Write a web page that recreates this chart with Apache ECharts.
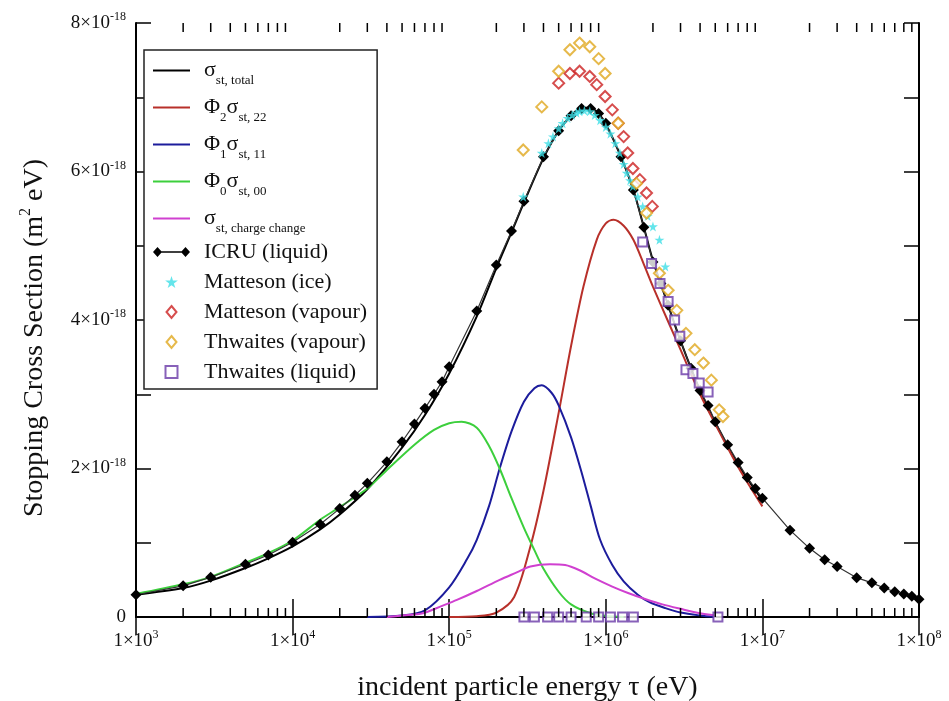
<!DOCTYPE html>
<html><head><meta charset="utf-8">
<script src="https://cdn.jsdelivr.net/npm/echarts@6/dist/echarts.min.js"></script>
<style>html,body{margin:0;padding:0;background:#fff}#c{width:949px;height:701px}</style>
</head><body><div id="c"></div>
<script>
// ---- data (energies in eV, cross sections in units of 1e-18 m^2 eV) ----
var xDecades = [1e3, 1e4, 1e5, 1e6, 1e7, 1e8];
var yTicks = [0, 2, 4, 6, 8];

var totalX = [1e3,2e3,3e3,5e3,7e3,1e4,1.5e4,2e4,3e4,5e4,7e4,1e5,1.5e5,2e5,2.5e5,3e5,4e5,5e5,6e5,7e5,8e5,9e5,1e6,1.25e6,1.5e6,1.75e6,2e6,2.5e6,3e6,4e6,5e6,7e6,1e7];
var totalY = [0.30,0.39,0.49,0.66,0.79,0.95,1.18,1.38,1.72,2.28,2.72,3.28,4.05,4.70,5.18,5.58,6.18,6.55,6.75,6.86,6.86,6.78,6.64,6.20,5.75,5.25,4.80,4.20,3.72,3.05,2.62,2.05,1.57];

var phi2X = [1e5,1.5e5,2e5,2.6e5,3.3e5,4e5,5e5,6e5,7.2e5,8.75e5,1e6,1.12e6,1.3e6,1.5e6,1.75e6,2e6,2.5e6,3e6,4e6,5e6,7e6,1e7];
var phi2Y = [0.0,0.01,0.06,0.27,0.95,1.70,2.75,3.65,4.45,5.08,5.30,5.35,5.27,5.08,4.75,4.45,3.98,3.60,3.00,2.60,2.02,1.49];

var phi1X = [3e4,5e4,7e4,1e5,1.3e5,1.5e5,1.8e5,2.1e5,2.5e5,3e5,3.5e5,3.9e5,4.5e5,5e5,6e5,7e5,8e5,9.2e5,1.1e6,1.3e6,1.6e6,1.9e6,2.4e6,3e6,4e6,5e6];
var phi1Y = [0.0,0.02,0.09,0.40,0.78,1.04,1.50,2.00,2.50,2.90,3.08,3.12,3.02,2.85,2.42,1.95,1.50,1.04,0.70,0.48,0.30,0.20,0.12,0.06,0.02,0.0];

var phi0X = [1e3,2e3,3e3,5e3,7e3,1e4,1.5e4,2e4,3e4,4e4,6e4,8e4,1e5,1.2e5,1.5e5,1.8e5,2.1e5,2.5e5,3e5,3.5e5,4e5,5e5,6e5,8e5,1e6,1.3e6];
var phi0Y = [0.31,0.44,0.54,0.73,0.86,1.03,1.31,1.48,1.73,1.98,2.32,2.52,2.61,2.63,2.55,2.30,2.00,1.60,1.20,0.90,0.65,0.34,0.17,0.05,0.015,0.0];

var ccX = [4e4,5e4,6.8e4,9e4,1.12e5,1.5e5,2.1e5,2.7e5,3.3e5,4.4e5,5.5e5,6.8e5,8.5e5,1.1e6,1.4e6,1.8e6,2.3e6,3e6,4e6,5e6];
var ccY = [0.0,0.02,0.05,0.15,0.23,0.35,0.50,0.60,0.68,0.71,0.70,0.63,0.52,0.41,0.32,0.24,0.17,0.11,0.05,0.02];

var icruX = [1e3,2e3,3e3,5e3,7e3,1e4,1.5e4,2e4,2.5e4,3e4,4e4,5e4,6e4,7e4,8e4,9e4,1e5,1.5e5,2e5,2.5e5,3e5,4e5,5e5,6e5,7e5,8e5,9e5,1e6,1.25e6,1.5e6,1.75e6,2e6,2.25e6,2.5e6,3e6,3.5e6,4e6,4.5e6,5e6,6e6,7e6,8e6,9e6,1e7,1.5e7,2e7,2.5e7,3e7,4e7,5e7,6e7,7e7,8e7,9e7,1e8];
var icruY = [0.30,0.42,0.535,0.71,0.835,1.006,1.25,1.46,1.64,1.80,2.09,2.36,2.60,2.81,3.00,3.17,3.37,4.12,4.74,5.20,5.60,6.20,6.55,6.75,6.85,6.85,6.78,6.65,6.20,5.75,5.25,4.78,4.49,4.20,3.72,3.35,3.05,2.85,2.63,2.32,2.08,1.88,1.73,1.60,1.17,0.925,0.77,0.68,0.53,0.46,0.39,0.34,0.31,0.28,0.24];

var mIceX = [2.97e5,3.9e5,4.3e5,4.6e5,5e5,5.3e5,5.7e5,6.1e5,6.5e5,6.8e5,7.3e5,7.9e5,8.5e5,9.2e5,1e6,1.07e6,1.15e6,1.23e6,1.3e6,1.36e6,1.43e6,1.49e6,1.6e6,1.72e6,1.85e6,2e6,2.2e6,2.4e6];
var mIceY = [5.66,6.25,6.38,6.47,6.58,6.65,6.72,6.76,6.79,6.81,6.82,6.81,6.76,6.69,6.60,6.51,6.38,6.25,6.10,5.98,5.88,5.80,5.66,5.53,5.40,5.26,5.08,4.72];

var mVapX = [5e5,5.9e5,6.8e5,7.9e5,8.75e5,9.9e5,1.1e6,1.2e6,1.3e6,1.38e6,1.49e6,1.65e6,1.82e6,1.98e6];
var mVapY = [7.19,7.32,7.35,7.28,7.17,7.01,6.83,6.65,6.47,6.25,6.04,5.89,5.71,5.53];

var tVapX = [2.97e5,3.9e5,5e5,5.9e5,6.8e5,7.9e5,9e5,9.9e5,1.2e6,1.57e6,1.82e6,2.2e6,2.5e6,2.84e6,3.25e6,3.7e6,4.2e6,4.72e6,5.3e6,5.6e6];
var tVapY = [6.29,6.87,7.35,7.64,7.73,7.68,7.52,7.32,6.65,5.84,5.44,4.63,4.40,4.13,3.82,3.60,3.42,3.19,2.79,2.70];

var tLiqX = [1.72e6,1.96e6,2.22e6,2.5e6,2.75e6,2.97e6,3.25e6,3.6e6,3.95e6,4.5e6,3e5,3.5e5,4.25e5,5e5,6e5,7.5e5,9e5,1.07e6,1.28e6,1.5e6,5.2e6];
var tLiqY = [5.05,4.76,4.49,4.25,4.00,3.78,3.33,3.28,3.15,3.03,0,0,0,0,0,0,0,0,0,0,0];

var minorMult = [2,3,4,5,6,7,8,9];

function pairs(xs, ys){ return xs.map(function(x,i){ return [x, ys[i]]; }); }

var minorData = [];
for (var d = 0; d < xDecades.length - 1; d++) {
  minorMult.forEach(function(m){ minorData.push([xDecades[d]*m, 0]); });
}

var FONT = 'Liberation Serif';
var H = '{h|\u200b}';
var legendNames = {
  'total': H + '\u03c3{sub|st, total}',
  'phi2': H + '\u03a6{sub|2}\u03c3{sub|st, 22}',
  'phi1': H + '\u03a6{sub|1}\u03c3{sub|st, 11}',
  'phi0': H + '\u03a6{sub|0}\u03c3{sub|st, 00}',
  'cc': H + '\u03c3{sub|st, charge change}',
  'ICRU (liquid)': 'ICRU (liquid)',
  'Matteson (ice)': 'Matteson (ice)',
  'Matteson (vapour)': 'Matteson (vapour)',
  'Thwaites (vapour)': 'Thwaites (vapour)',
  'Thwaites (liquid)': 'Thwaites (liquid)'
};

var lineIcon = 'path://M0,0 L37,0 L37,2.2 L0,2.2 Z';
var icruIcon = 'path://M0,6 L4.5,1 L9,6 L4.5,11 Z M28,6 L32.5,1 L37,6 L32.5,11 Z M4,5.3 L33,5.3 L33,6.7 L4,6.7 Z';
var starPath = 'path://M50,0 L61,35 L98,35 L68,57 L79,91 L50,70 L21,91 L32,57 L2,35 L39,35 Z';
var diamondIcon = 'path://M5,0 L10,6 L5,12 L0,6 Z';
var squareIcon = 'path://M0,0 L10,0 L10,10 L0,10 Z';

var chart = echarts.init(document.getElementById('c'), null, {renderer: 'canvas'});

function curve(name, xs, ys, color) {
  return { name: name, type: 'line', data: pairs(xs, ys), symbol: 'none', smooth: 0.3,
    lineStyle: { color: color, width: 2 }, itemStyle: { color: color }, z: 2, clip: true };
}
function pts(name, xs, ys, symbol, size, fill, border) {
  return { name: name, type: 'scatter', data: pairs(xs, ys), symbol: symbol, symbolSize: size,
    itemStyle: { color: fill, borderColor: border || fill, borderWidth: border ? 2 : 0 }, z: 4 };
}

var option = {
  animation: false,
  backgroundColor: '#fff',
  grid: { left: 136, right: 30, top: 23, bottom: 84, containLabel: false, outerBoundsMode: 'none' },
  legend: {
    orient: 'vertical', left: 144, top: 50,
    padding: [4, 10, 4, 9], itemGap: 4, itemWidth: 37, itemHeight: 12, symbolKeepAspect: true,
    borderColor: '#222', borderWidth: 1.5, backgroundColor: '#fff',
    data: [
      { name: 'total', icon: lineIcon },
      { name: 'phi2', icon: lineIcon },
      { name: 'phi1', icon: lineIcon },
      { name: 'phi0', icon: lineIcon },
      { name: 'cc', icon: lineIcon },
      { name: 'ICRU (liquid)', icon: icruIcon },
      { name: 'Matteson (ice)', icon: starPath },
      { name: 'Matteson (vapour)', icon: diamondIcon },
      { name: 'Thwaites (vapour)', icon: diamondIcon },
      { name: 'Thwaites (liquid)', icon: squareIcon }
    ],
    formatter: function(n){ return legendNames[n]; },
    textStyle: { fontFamily: FONT, fontSize: 22, color: '#111', lineHeight: 26, padding: [0,0,0,9],
      rich: {
        h: { lineHeight: 33, fontSize: 22 },
        sub: { fontFamily: FONT, fontSize: 13, verticalAlign: 'bottom', lineHeight: 21, color: '#111' }
      } }
  },
  xAxis: [{
    type: 'log', logBase: 10, min: 1e3, max: 1e8, splitNumber: 5,
    axisLine: { lineStyle: { color: '#000', width: 2 } },
    axisTick: { inside: true, length: 18, lineStyle: { color: '#000', width: 1.5 } },
    splitLine: { show: false },
    axisLabel: { margin: 12, fontFamily: FONT, fontSize: 19, color: '#111', lineHeight: 24,
      formatter: function(v){ return '1\u00d710{sup|' + Math.round(Math.log10(v)) + '}'; },
      rich: { sup: { fontFamily: FONT, fontSize: 12, verticalAlign: 'top', lineHeight: 12, color: '#111' } } },
    name: 'incident particle energy \u03c4 (eV)', nameLocation: 'middle', nameGap: 57,
    nameTextStyle: { fontFamily: FONT, fontSize: 28, color: '#111' }
  }, {
    type: 'log', logBase: 10, min: 1e3, max: 1e8, splitNumber: 5, position: 'top',
    axisLine: { lineStyle: { color: '#000', width: 2 } },
    axisTick: { inside: true, length: 18, lineStyle: { color: '#000', width: 1.5 } },
    axisLabel: { show: false }, splitLine: { show: false }
  }],
  yAxis: [{
    type: 'value', min: 0, max: 8, interval: 1,
    axisLine: { show: true, lineStyle: { color: '#000', width: 2 } },
    axisTick: { show: true, inside: true, length: 15, lineStyle: { color: '#000', width: 1.5 } },
    splitLine: { show: false },
    axisLabel: { margin: 10, fontFamily: FONT, fontSize: 19, color: '#111', lineHeight: 24,
      formatter: function(v){ if (yTicks.indexOf(v) < 0) return ''; return v === 0 ? '0' : v + '\u00d710{sup|-18}'; },
      rich: { sup: { fontFamily: FONT, fontSize: 12, verticalAlign: 'top', lineHeight: 12, color: '#111' } } },
    name: 'Stopping Cross Section (m{sup|2} eV)', nameLocation: 'middle', nameGap: 84, nameRotate: 90,
    nameTextStyle: { fontFamily: FONT, fontSize: 28, color: '#111', lineHeight: 34, padding: [0, 36, 0, 0],
      rich: { sup: { fontFamily: FONT, fontSize: 16, verticalAlign: 'top', lineHeight: 16, color: '#111' } } }
  }, {
    type: 'value', min: 0, max: 8, interval: 1, position: 'right',
    axisLine: { show: true, lineStyle: { color: '#000', width: 2 } },
    axisTick: { show: true, inside: true, length: 15, lineStyle: { color: '#000', width: 1.5 } },
    axisLabel: { show: false }, splitLine: { show: false }
  }],
  series: [
    curve('total', totalX, totalY, '#000000'),
    curve('phi2', phi2X, phi2Y, '#b8302a'),
    curve('phi1', phi1X, phi1Y, '#1c1c9c'),
    curve('phi0', phi0X, phi0Y, '#3ccf3c'),
    curve('cc', ccX, ccY, '#d040d0'),
    { name: 'ICRU (liquid)', type: 'line', data: pairs(icruX, icruY), symbol: 'diamond', symbolSize: 11,
      showAllSymbol: true, lineStyle: { color: '#333', width: 1.2 }, itemStyle: { color: '#000' }, z: 3 },
    pts('Matteson (ice)', mIceX, mIceY, starPath, 10, '#3ddfe6', null),
    pts('Matteson (vapour)', mVapX, mVapY, 'diamond', 11, '#fff', '#cc2020'),
    pts('Thwaites (vapour)', tVapX, tVapY, 'diamond', 11, '#fff', '#e0a81e'),
    pts('Thwaites (liquid)', tLiqX, tLiqY, 'rect', 9, '#fff', '#6a3aa8'),
    { name: 'minorTicks', type: 'custom', data: minorData, silent: true, z: 5, clip: false,
      renderItem: function(params, api) {
        var x = api.value(0);
        var pb = api.coord([x, 0]);
        var pt = api.coord([x, 8]);
        return { type: 'group', children: [
          { type: 'line', shape: { x1: pb[0], y1: pb[1], x2: pb[0], y2: pb[1] - 9 }, style: { stroke: '#000', lineWidth: 1.5 } },
          { type: 'line', shape: { x1: pt[0], y1: pt[1], x2: pt[0], y2: pt[1] + 9 }, style: { stroke: '#000', lineWidth: 1.5 } }
        ] };
      } }
  ]
};
chart.setOption(option);
</script>
</body></html>
